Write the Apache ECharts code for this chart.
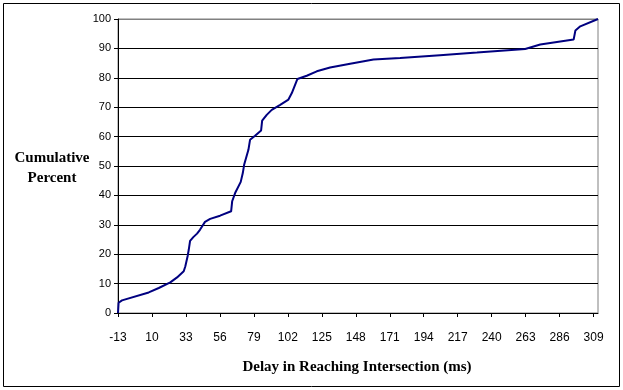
<!DOCTYPE html>
<html>
<head>
<meta charset="utf-8">
<script src="https://cdn.jsdelivr.net/npm/echarts@6/dist/echarts.min.js"></script>
<style>
html,body{margin:0;padding:0;background:#fff;}
#chart{width:623px;height:390px;}
</style>
</head>
<body>
<div id="chart"></div>
<script>
// Data
const delayMs = [-13, -12.6, -10.3, 7.8, 14.6, 22.4, 27, 31.5, 32.6, 34.2, 34.9, 35.8, 38, 40.5, 42.5, 45.9, 49.4, 56.1, 63.6, 64.3, 66.3, 70.1, 71.5, 72.4, 75.3, 76.4, 79.8, 83.9, 84.6, 87.7, 91.1, 96.8, 102.4, 104.7, 108.5, 114.8, 121.6, 130.6, 144.2, 160, 178, 205, 230, 262.7, 272.9, 295.5, 296.7, 300, 312];
const cumulativePercent = [0, 3.5, 4.3, 7.0, 8.5, 10.4, 12.1, 14.2, 15.9, 19.5, 21.5, 24.5, 25.8, 27.0, 28.3, 31.0, 32.0, 33.1, 34.6, 38.0, 40.8, 44.6, 47.6, 50.4, 55.5, 58.9, 60.3, 62.1, 65.4, 67.4, 69.1, 70.8, 72.6, 74.8, 79.6, 80.7, 82.2, 83.5, 84.8, 86.2, 86.7, 87.7, 88.6, 89.8, 91.3, 93.0, 96.1, 97.5, 100];
const xTickLabels = [-13, 10, 33, 56, 79, 102, 125, 148, 171, 194, 217, 240, 263, 286, 309];
const yTickLabels = [0, 10, 20, 30, 40, 50, 60, 70, 80, 90, 100];
const xTitle = 'Delay in Reaching Intersection (ms)';
const yTitle = 'Cumulative\nPercent';

const points = delayMs.map((x, i) => [x, cumulativePercent[i]]);
const splitColors = yTickLabels.map((v, i) => i === yTickLabels.length - 1 ? '#808080' : '#000000');

const chart = echarts.init(document.getElementById('chart'), null, {renderer: 'canvas'});
chart.setOption({
  animation: false,
  backgroundColor: '#ffffff',
  grid: {left: 118, right: 25, top: 19, bottom: 77, show: true, borderColor: '#808080', borderWidth: 1, backgroundColor: 'transparent'},
  xAxis: {
    type: 'value',
    min: -13,
    max: 312,
    axisLine: {show: true, onZero: false, lineStyle: {color: '#000', width: 1}},
    axisTick: {show: true, length: 4, inside: false, customValues: xTickLabels, lineStyle: {color: '#000'}},
    axisLabel: {customValues: xTickLabels, color: '#000', fontFamily: 'Liberation Sans', fontSize: 12, margin: 19},
    splitLine: {show: false}
  },
  yAxis: {
    type: 'value',
    min: 0,
    max: 100,
    interval: 10,
    axisLine: {show: true, onZero: false, lineStyle: {color: '#000', width: 1}},
    axisTick: {show: true, length: 4, lineStyle: {color: '#000'}},
    axisLabel: {color: '#000', fontFamily: 'Liberation Sans', fontSize: 11, margin: 7},
    splitLine: {show: true, lineStyle: {color: splitColors, width: 1}}
  },
  series: [{
    type: 'line',
    data: points,
    showSymbol: false,
    symbol: 'none',
    lineStyle: {color: '#000080', width: 2},
    z: 5
  }],
  graphic: [
    {type: 'rect', shape: {x: 3.5, y: 3.5, width: 616, height: 383}, style: {fill: null, stroke: '#000', lineWidth: 1}, z: -1, silent: true},
    {type: 'text', x: 52, y: 168, style: {text: yTitle, fill: '#000', font: 'bold 15px "Liberation Serif"', textAlign: 'center', textVerticalAlign: 'middle', lineHeight: 20}},
    {type: 'text', x: 357, y: 367, style: {text: xTitle, fill: '#000', font: 'bold 15px "Liberation Serif"', textAlign: 'center', textVerticalAlign: 'middle'}}
  ]
});
</script>
</body>
</html>
